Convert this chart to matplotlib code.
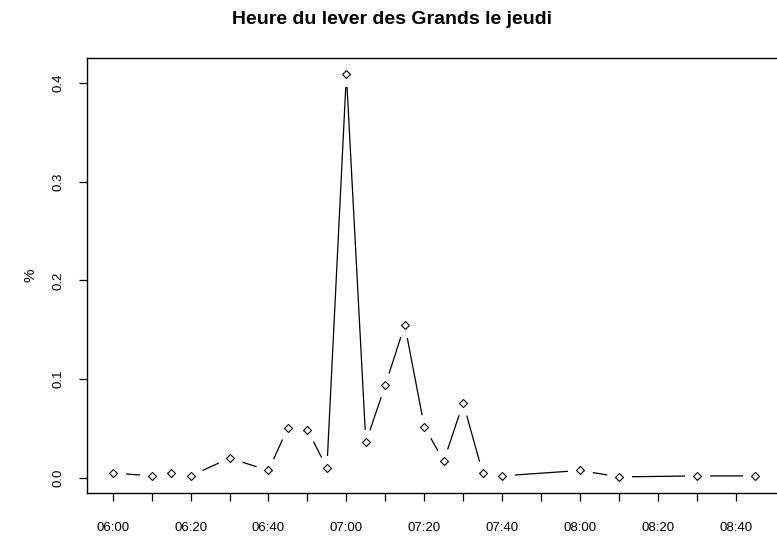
import numpy as np
import matplotlib
matplotlib.use("Agg")
import matplotlib.pyplot as plt

# heure du lever (jeudi) et part des Grands
heures = ["06:00", "06:10", "06:15", "06:20", "06:30", "06:40", "06:45", "06:50",
          "06:55", "07:00", "07:05", "07:10", "07:15", "07:20", "07:25", "07:30",
          "07:35", "07:40", "08:00", "08:10", "08:30", "08:45"]
pourcent = [0.005, 0.002, 0.005, 0.002, 0.020, 0.0075, 0.051, 0.049,
            0.010, 0.409, 0.036, 0.094, 0.155, 0.052, 0.017, 0.076,
            0.005, 0.002, 0.0075, 0.001, 0.002, 0.002]
graduations = ["06:00", "06:10", "06:20", "06:30", "06:40", "06:50", "07:00", "07:10",
               "07:20", "07:30", "07:40", "07:50", "08:00", "08:10", "08:20", "08:30",
               "08:40"]


def en_minutes(h):
    hh, mm = h.split(":")
    return int(hh) * 60 + int(mm)


x = np.array([en_minutes(h) for h in heures])
y = np.array(pourcent)
xt = np.array([en_minutes(h) for h in graduations])

plt.rcParams['font.family'] = ['Liberation Sans', 'DejaVu Sans']

fig = plt.figure(figsize=(7.77, 5.38), dpi=100)
ax = fig.add_axes([87 / 777, 45 / 538, 694 / 777, 435 / 538])

# type "b" a la R : ligne interrompue autour des points
ax.plot(x, y, color='black', lw=0.9, zorder=1)
ax.plot(x, y, ls='none', marker='o', ms=17, mfc='white', mec='white', zorder=2)
ax.plot(x, y, ls='none', marker='D', ms=4.5, mfc='white', mec='black', mew=0.8, zorder=3)

pad_x = 0.04 * (x.max() - x.min())
pad_y = 0.04 * (y.max() - y.min())
ax.set_xlim(x.min() - pad_x, x.max() + pad_x)
ax.set_ylim(y.min() - pad_y, y.max() + pad_y)

ax.set_xticks(xt)
ax.set_xticklabels([g if i % 2 == 0 else "" for i, g in enumerate(graduations)])
ax.set_yticks([0.0, 0.1, 0.2, 0.3, 0.4])
ax.set_yticklabels(["0.0", "0.1", "0.2", "0.3", "0.4"], rotation=90, va='center')
ax.tick_params(direction='out', length=6, width=0.9, labelsize=9.5, pad=10)
ax.tick_params(axis='x', pad=15)

for s in ax.spines.values():
    s.set_linewidth(1.0)

ax.set_ylabel("%", fontsize=11, labelpad=11)
fig.text(0.505, 0.963, "Heure du lever des Grands le jeudi", ha='center', va='center',
         fontsize=14, fontweight='bold')

fig.savefig("out.png", dpi=100)
